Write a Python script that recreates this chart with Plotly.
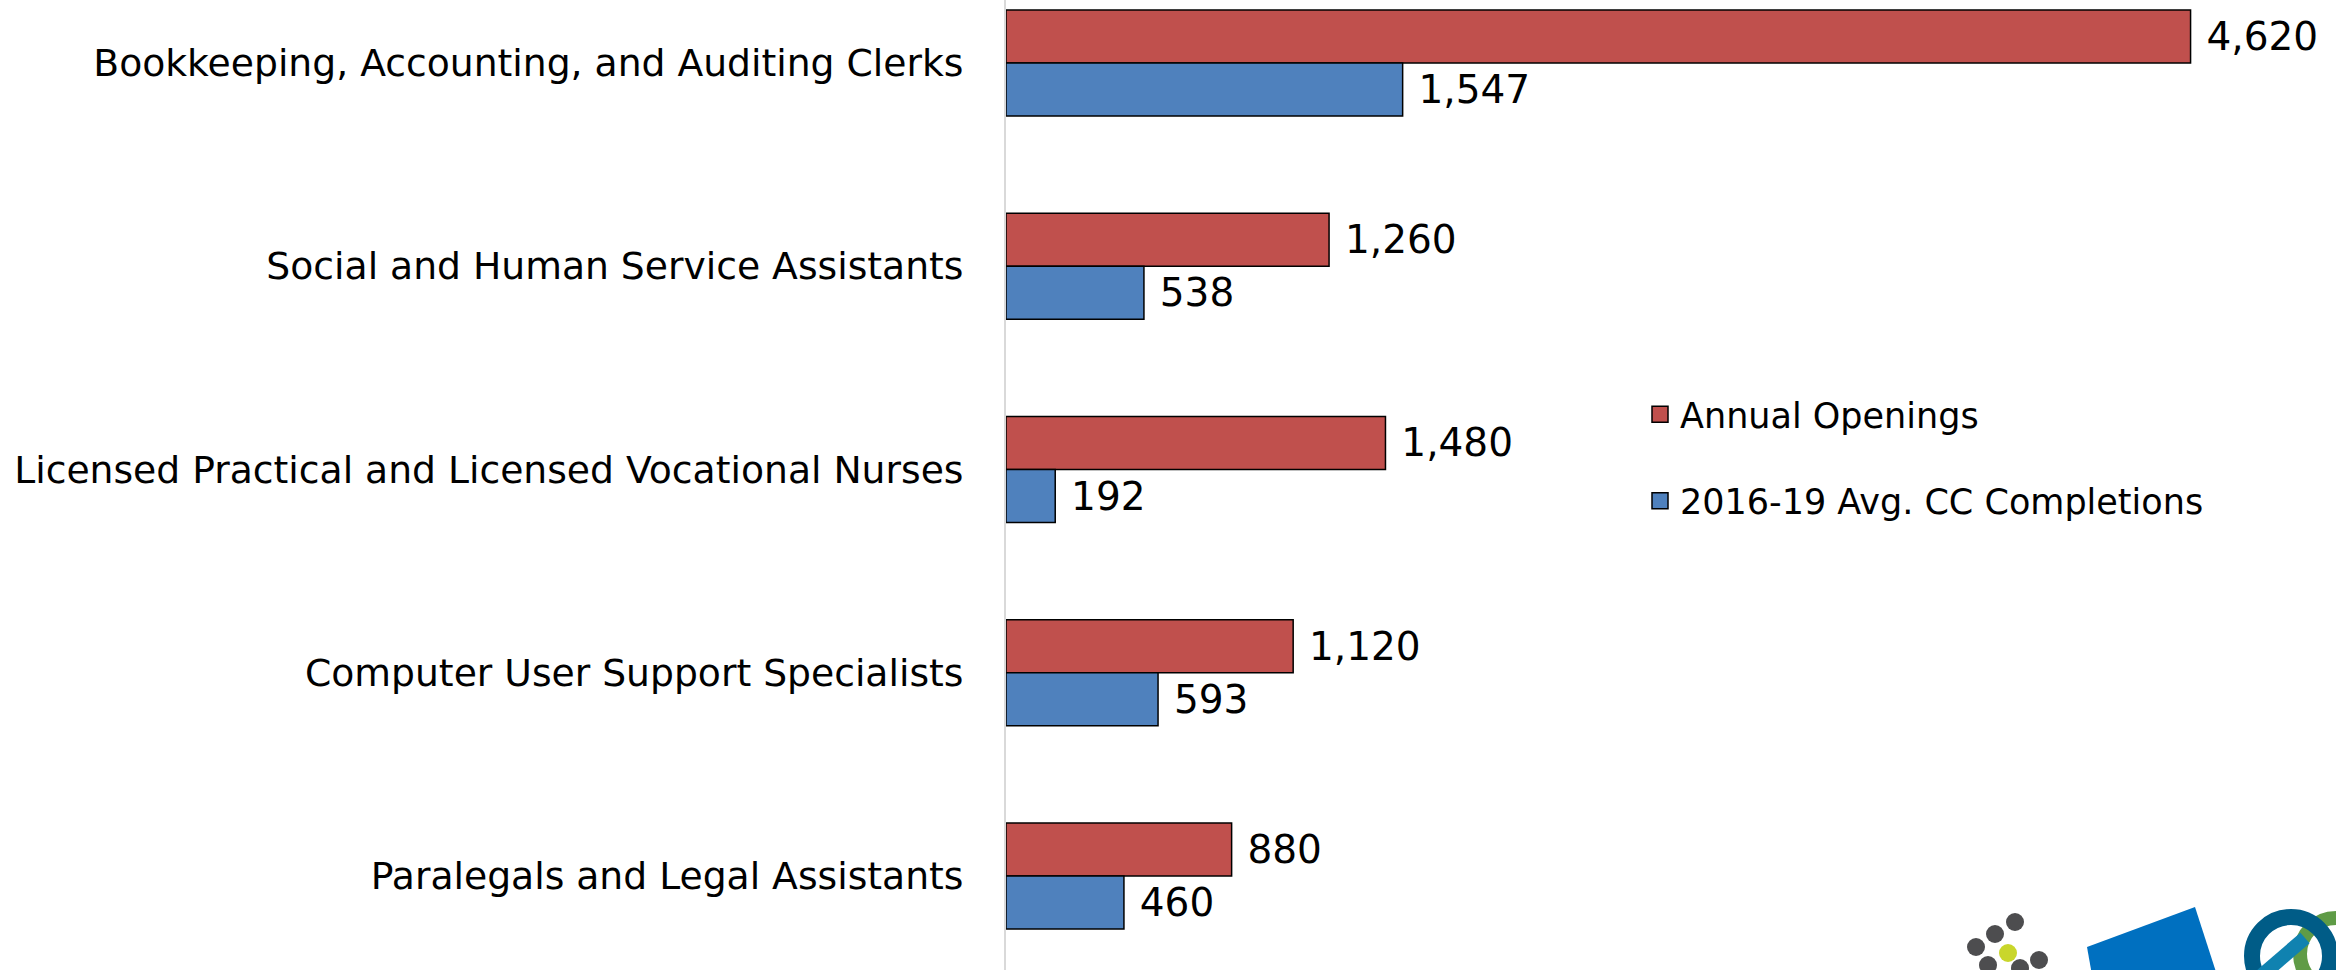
import plotly.graph_objects as go

categories = [
    "Bookkeeping, Accounting, and Auditing Clerks",
    "Social and Human Service Assistants",
    "Licensed Practical and Licensed Vocational Nurses",
    "Computer User Support Specialists",
    "Paralegals and Legal Assistants",
]
annual_openings = [4620, 1260, 1480, 1120, 880]
cc_completions = [1547, 538, 192, 593, 460]
series_names = ["Annual Openings", "2016-19 Avg. CC Completions"]
series_colors = ["#C0504D", "#4F81BD"]

W, H = 2336, 970
L = 1006
FONT = "DejaVu Sans"

fig = go.Figure()
for name, vals, col in zip(series_names, [annual_openings, cc_completions], series_colors):
    fig.add_trace(go.Bar(
        name=name, y=categories, x=vals, orientation="h",
        marker=dict(color=col, line=dict(color="#000000", width=1.5)),
        texttemplate="\u2004%{x:,}", textposition="outside",
        textfont=dict(family=FONT, size=39, color="#000000"),
        constraintext="none", cliponaxis=False, showlegend=False,
        hoverinfo="skip",
    ))
# legend entries (square symbols)
for i, (name, col) in enumerate(zip(series_names, series_colors)):
    fig.add_trace(go.Scatter(
        name=name, x=[None], y=[None], mode="markers",
        marker=dict(symbol="square", size=22, color=col, line=dict(color="#000000", width=1.5)),
        legendgroup=f"g{i}", showlegend=True,
    ))

def px(x):
    return (x - L) / (W - L)

def py(y):
    return 1 - y / H

shapes = []
# decorative logos (bottom right)
dots = [(2015, 922, "#4D4D4F"), (1995, 934, "#4D4D4F"), (1976, 947, "#4D4D4F"),
        (2008, 953, "#C9D62B"), (2039, 960, "#4D4D4F"), (1988, 965, "#4D4D4F"),
        (2020, 968, "#4D4D4F")]
for cx, cy, c in dots:
    r = 9
    shapes.append(dict(type="circle", xref="paper", yref="paper",
                       x0=px(cx - r), x1=px(cx + r), y0=py(cy + r), y1=py(cy - r),
                       fillcolor=c, line=dict(width=0), layer="above"))
quad = [(2087, 947), (2195, 907), (2217, 975), (2092, 975)]
path = "M " + " L ".join(f"{px(a)},{py(b)}" for a, b in quad) + " Z"
shapes.append(dict(type="path", xref="paper", yref="paper", path=path,
                   fillcolor="#0070C0", line=dict(width=0), layer="above"))
shapes.append(dict(type="circle", xref="paper", yref="paper",
                   x0=px(2300), x1=px(2372), y0=py(990), y1=py(918),
                   fillcolor="rgba(0,0,0,0)", line=dict(color="#5F9B46", width=14), layer="above"))
shapes.append(dict(type="circle", xref="paper", yref="paper",
                   x0=px(2252), x1=px(2330), y0=py(995), y1=py(917),
                   fillcolor="rgba(0,0,0,0)", line=dict(color="#005C87", width=16), layer="above"))
shapes.append(dict(type="line", xref="paper", yref="paper",
                   x0=px(2262), x1=px(2305), y0=py(975), y1=py(938),
                   line=dict(color="#1082B0", width=14), layer="above"))

fig.update_layout(
    width=W, height=H,
    margin=dict(l=L, r=0, t=0, b=0),
    paper_bgcolor="#FFFFFF", plot_bgcolor="#FFFFFF",
    barmode="group", bargap=0.478, bargroupgap=0,
    font=dict(family=FONT, color="#000000"),
    xaxis=dict(range=[0, (W - L) / 0.2564], visible=False, showgrid=False, zeroline=False),
    yaxis=dict(range=[4.4625, -0.31], showline=True, linecolor="#D9D9D9", linewidth=2,
               showgrid=False, zeroline=False, ticks="", ticklabelstandoff=33,
               tickfont=dict(family=FONT, size=37.7, color="#000000")),
    legend=dict(x=px(1640), y=py(385), xanchor="left", yanchor="top",
                font=dict(family=FONT, size=35, color="#000000"),
                traceorder="grouped", tracegroupgap=38, bgcolor="rgba(0,0,0,0)",
                itemsizing="trace"),
    shapes=shapes,
    showlegend=True,
    hovermode=False,
)

fig.write_html("out.html", config={"displayModeBar": False},
               post_script="document.body.style.margin='0';document.body.style.padding='0';")
